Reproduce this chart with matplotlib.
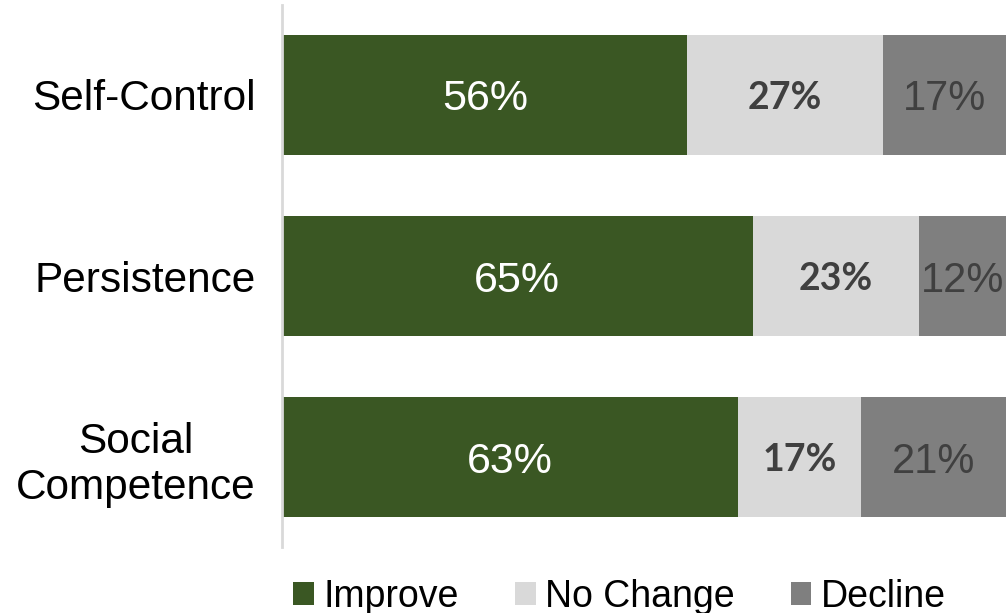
import matplotlib
matplotlib.use("Agg")
import matplotlib.pyplot as plt
from matplotlib.patches import Patch

categories = ["Self-Control", "Persistence", "Social\nCompetence"]
series_names = ["Improve", "No Change", "Decline"]
improve = [56, 65, 63]
no_change = [27, 23, 17]
decline = [17, 12, 21]

colors = ["#3a5723", "#d9d9d9", "#7f7f7f"]
label_colors = ["white", "#404040", "#404040"]
label_fonts = [dict(family="Liberation Sans", size=31, weight="normal"),
               dict(family="Lato", size=27, weight="bold"),
               dict(family="Liberation Sans", size=30, weight="normal")]

fig = plt.figure(figsize=(10.06, 6.13), dpi=100)
ax = fig.add_axes([282/1006, 66/613, 724/1006, 542/613])

ypos = list(range(len(categories)))
lefts = [0]*len(categories)
for si, vals in enumerate([improve, no_change, decline]):
    ax.barh(ypos, vals, left=lefts, height=0.663, color=colors[si], edgecolor="none")
    for y, l, v in zip(ypos, lefts, vals):
        cx = (l + min(l + v, 100)) / 2
        ax.text(cx, y, f"{v}%", ha="center", va="center_baseline", color=label_colors[si],
                **label_fonts[si])
    lefts = [a + b for a, b in zip(lefts, vals)]

ax.set_xlim(0, 100)
ax.set_ylim(2.497, -0.497)
ax.set_yticks(ypos)
ax.set_yticklabels(categories, fontsize=30.5, family="Liberation Sans",
                   linespacing=1.2, multialignment="center")
ax.tick_params(axis="y", length=0, pad=19)
ax.set_xticks([])
for s in ["top", "right", "bottom"]:
    ax.spines[s].set_visible(False)
ax.spines["left"].set_color("#d9d9d9")
ax.spines["left"].set_linewidth(2)

handles = [Patch(facecolor=c, edgecolor="none", label=n) for c, n in zip(colors, series_names)]
fig.legend(handles=handles, loc="center", bbox_to_anchor=(619.5/1006, 1 - 597/613),
           ncol=3, frameon=False, prop=dict(family="Liberation Sans", size=27),
           handlelength=0.55, handleheight=0.55, handletextpad=0.25, columnspacing=1.5,
           borderpad=0, borderaxespad=0)

fig.savefig("out.png", dpi=100)
